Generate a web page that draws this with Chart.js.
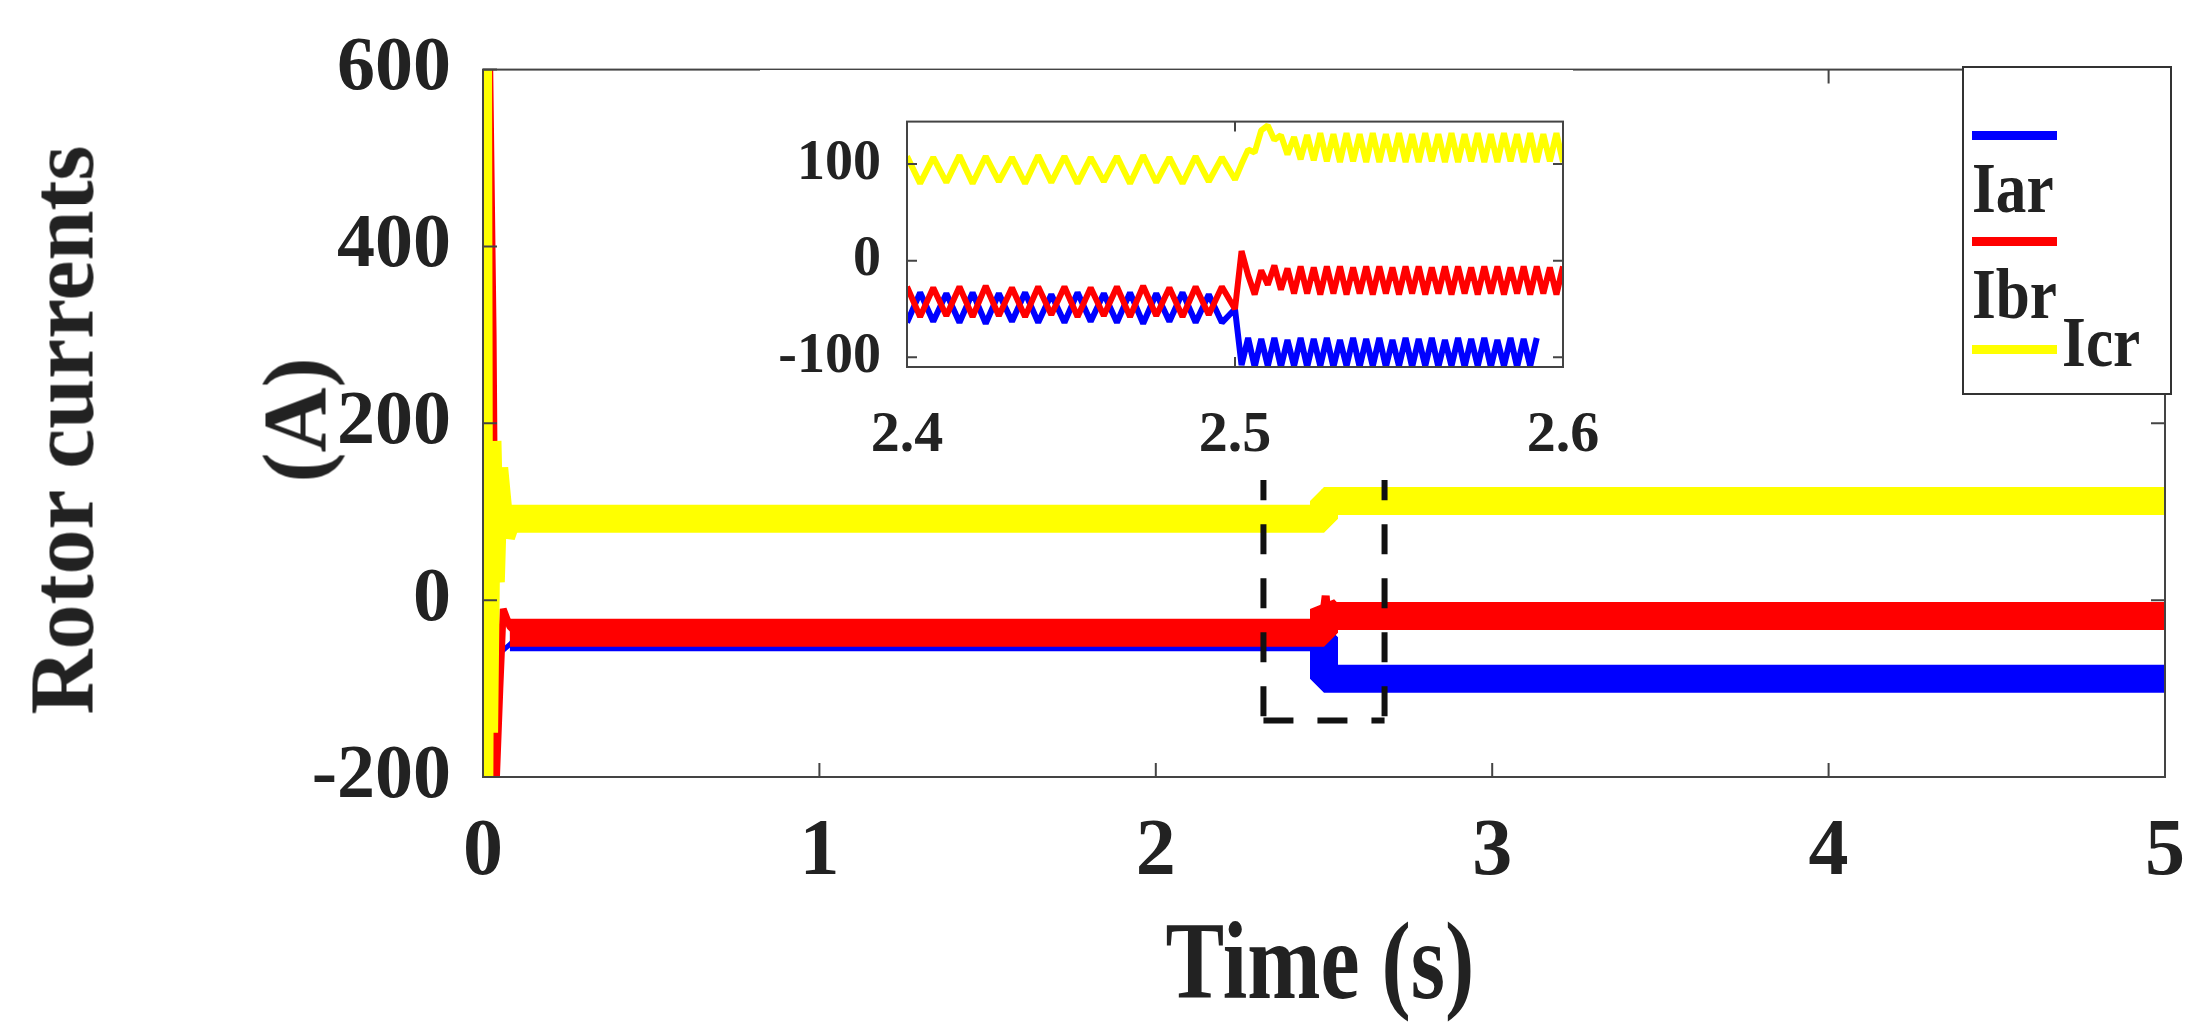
<!DOCTYPE html>
<html><head><meta charset="utf-8">
<script src="https://cdn.jsdelivr.net/npm/chart.js@4.4.0/dist/chart.umd.min.js"></script>
<style>
body{margin:0;background:#fff;width:2205px;height:1029px;overflow:hidden;position:relative;font-family:"Liberation Serif",serif;font-weight:bold;color:#222}
#main{position:absolute;left:0;top:0}
#inset{position:absolute;left:760px;top:70px}
.t{position:absolute;white-space:nowrap}
#legend{position:absolute;left:1962px;top:66px;width:206px;height:325px;border:2px solid #333;background:#fff}
.li{position:absolute;left:8px;height:60px;font-size:72px;line-height:60px;transform:scaleX(0.85);transform-origin:left center}
.li span{display:inline-block;width:100px;height:9px;vertical-align:middle;margin-right:6px}
</style></head><body>
<canvas id="main" width="2205" height="1029"></canvas>
<canvas id="inset" width="900" height="410"></canvas>
<div class="t" style="left:1320px;top:961px;font-size:110px;transform:translate(-50%,-50%) scaleX(0.8)">Time (s)</div>
<div class="t" style="left:62px;top:430px;font-size:90px;transform:translate(-50%,-50%) rotate(-90deg)">Rotor currents</div>
<div class="t" style="left:295px;top:420px;font-size:90px;transform:translate(-50%,-50%) rotate(-90deg)">(A)</div>
<div id="legend">
<div class="li" style="top:30px"><span style="background:#0000ff"></span>Iar</div>
<div class="li" style="top:136px"><span style="background:#ff0000"></span>Ibr</div>
<div class="li" style="top:244px"><span style="background:#ffff00"></span>Icr</div>
</div>
<script>
// ---- main chart data ----
const mainTicksX=[0,1,2,3,4,5];
const mainTicksY=[-200,0,200,400,600];
const icrBand=[[0.08,92],[2.5,92],[2.5,112],[5,112]];
const ibrBand=[[0.08,-37],[2.5,-37],[2.5,-10],[2.52,-18],[5,-18]];
const iarBand=[[0.08,-42],[2.5,-42],[2.5,-89],[5,-89]];
const icrStart=[[0,0],[0.004,600],[0.008,-200],[0.012,600],[0.016,-200],[0.02,170],[0.03,-150],[0.04,180],[0.05,20],[0.06,150],[0.08,70],[0.1,92]];
const ibrStart=[[0,0],[0.006,600],[0.012,-200],[0.02,600],[0.03,300],[0.04,-200],[0.05,-100],[0.06,-10],[0.08,-30],[0.1,-37]];
const iarStart=[[0,-200],[0.01,-200],[0.03,-120],[0.05,-60],[0.08,-50],[0.1,-42]];
const icrSpike=[[2.5,112],[2.505,125],[2.51,112]];
const ibrSpike=[[2.5,-10],[2.505,5],[2.51,-18]];
// ---- inset data ----
const insetTicksX=[2.4,2.5,2.6];
const insetTicksY=[-100,0,100];
const insetT=[2.400,2.404,2.408,2.412,2.416,2.420,2.424,2.428,2.432,2.436,2.440,2.444,2.448,2.452,2.456,2.460,2.464,2.468,2.472,2.476,2.480,2.484,2.488,2.492,2.496,2.500,
2.502,2.504,2.506,2.508,2.510,2.512,2.514,2.516,2.518,2.520,2.522,2.524,2.526,2.528,2.530,2.532,2.534,2.536,2.538,2.540,2.542,2.544,2.546,2.548,2.550,2.552,2.554,2.556,2.558,2.560,2.562,2.564,2.566,2.568,2.570,2.572,2.574,2.576,2.578,2.580,2.582,2.584,2.586,2.588,2.590,2.592,2.594,2.596,2.598,2.600];
const icrIn=[108,80,107,81,109,80,108,82,107,80,109,81,108,80,107,82,108,80,109,81,107,80,108,82,107,84,
100,115,112,135,140,125,130,110,128,105,130,104,132,103,131,102,132,103,131,102,132,102,131,103,132,102,131,102,132,103,131,102,132,102,131,103,132,102,131,102,132,103,131,102,132,102,131,103,132,102];
const ibrIn=[-27,-58,-28,-57,-27,-58,-26,-57,-28,-58,-27,-56,-27,-58,-28,-57,-27,-58,-26,-57,-28,-58,-27,-56,-27,-50,
10,-15,-35,-10,-25,-5,-30,-8,-34,-6,-34,-7,-35,-6,-34,-6,-35,-7,-34,-6,-35,-6,-34,-7,-35,-6,-34,-6,-35,-7,-34,-6,-35,-6,-34,-7,-35,-6,-34,-6,-35,-7,-34,-6,-35,-6,-34,-7,-35,-6];
const iarIn=[-64,-33,-63,-34,-64,-33,-65,-34,-63,-33,-64,-35,-64,-33,-63,-34,-64,-33,-65,-34,-63,-33,-64,-35,-64,-50,
-108,-80,-110,-81,-109,-80,-110,-82,-109,-80,-110,-81,-109,-80,-110,-82,-109,-80,-110,-81,-109,-80,-110,-82,-109,-80,-110,-81,-109,-80,-110,-82,-109,-80,-110,-81,-109,-80,-110,-82,-109,-80,-110,-81,-109,-80];

const BLUE='#0000ff',RED='#ff0000',YEL='#ffff00';
const pts=a=>a.map(p=>({x:p[0],y:p[1]}));
const zip=v=>v.map((y,i)=>({x:insetT[i],y}));
const font=s=>({family:'"Liberation Serif", serif',weight:'bold',size:s});

function boxPlugin(tickX,tickY,len){return{id:'box',afterDatasetsDraw(c){
  const {ctx,chartArea:a,scales:{x,y}}=c;ctx.save();ctx.strokeStyle='#444';ctx.lineWidth=2;
  ctx.strokeRect(a.left,a.top,a.right-a.left,a.bottom-a.top);
  ctx.beginPath();
  tickX.forEach(v=>{const p=x.getPixelForValue(v);ctx.moveTo(p,a.bottom);ctx.lineTo(p,a.bottom-len);ctx.moveTo(p,a.top);ctx.lineTo(p,a.top+len);});
  tickY.forEach(v=>{const p=y.getPixelForValue(v);ctx.moveTo(a.left,p);ctx.lineTo(a.left+len,p);ctx.moveTo(a.right,p);ctx.lineTo(a.right-len,p);});
  ctx.stroke();ctx.restore();}}}

const zoomBox={id:'zoomBox',afterDatasetsDraw(c){
  const {ctx,scales:{x,y}}=c;const x1=x.getPixelForValue(2.32),x2=x.getPixelForValue(2.68),y1=y.getPixelForValue(147),y2=y.getPixelForValue(-136);
  ctx.save();ctx.strokeStyle='#111';ctx.lineWidth=6;ctx.setLineDash([30,24]);
  [[x1,y1,x2,y1],[x1,y2,x2,y2],[x1,y1,x1,y2],[x2,y1,x2,y2]].forEach(l=>{ctx.beginPath();ctx.moveTo(l[0],l[1]);ctx.lineTo(l[2],l[3]);ctx.stroke();});
  ctx.setLineDash([]);ctx.lineWidth=4;const ax=x.getPixelForValue(2.503);
  ctx.beginPath();ctx.moveTo(ax,y1);ctx.lineTo(ax,382);ctx.stroke();
  ctx.beginPath();ctx.moveTo(ax,368);ctx.lineTo(ax-10,392);ctx.lineTo(ax+10,392);ctx.closePath();ctx.fillStyle='#111';ctx.fill();ctx.restore();}};

const lineDs=(d,col,w,ord)=>({data:d,borderColor:col,borderWidth:w,pointRadius:0,tension:0,order:ord,borderJoinStyle:'bevel'});

new Chart(document.getElementById('main'),{type:'line',
 data:{datasets:[lineDs(pts(icrStart),YEL,10,0),lineDs(pts(icrBand),YEL,28,0),lineDs(pts(icrSpike),YEL,8,0),
   lineDs(pts(ibrStart),RED,7,1),lineDs(pts(ibrBand),RED,28,1),lineDs(pts(ibrSpike),RED,8,1),
   lineDs(pts(iarStart),BLUE,5,2),lineDs(pts(iarBand),BLUE,28,2)]},
 options:{responsive:false,animation:false,events:[],
  layout:{padding:{left:0,right:35,top:66,bottom:0}},
  plugins:{legend:{display:false},tooltip:{enabled:false}},
  scales:{
   x:{type:'linear',min:0,max:5,afterBuildTicks:s=>{s.ticks=mainTicksX.map(v=>({value:v}))},
      afterFit:s=>{s.height=252},grid:{display:false},border:{display:false},
      ticks:{font:font(80),color:'#222',padding:20,maxRotation:0}},
   y:{min:-200,max:600,afterBuildTicks:s=>{s.ticks=mainTicksY.map(v=>({value:v}))},
      afterFit:s=>{s.width=483},grid:{display:false},border:{display:false},
      ticks:{font:font(76),color:'#222',padding:24}}}},
 plugins:[boxPlugin(mainTicksX,mainTicksY,14),zoomBox]});

new Chart(document.getElementById('inset'),{type:'line',
 data:{datasets:[lineDs(zip(icrIn),YEL,6,0),lineDs(zip(ibrIn),RED,6,1),lineDs(zip(iarIn),BLUE,6,2)]},
 options:{responsive:false,animation:false,events:[],
  layout:{padding:{left:0,right:97,top:26,bottom:0}},
  plugins:{legend:{display:false},tooltip:{enabled:false}},
  scales:{
   x:{type:'linear',min:2.4,max:2.6,afterBuildTicks:s=>{s.ticks=insetTicksX.map(v=>({value:v}))},
      afterFit:s=>{s.height=113},grid:{display:false},border:{display:false},
      ticks:{font:font(58),color:'#222',padding:26,maxRotation:0,callback:v=>v.toFixed(1)}},
   y:{min:-110,max:144,afterBuildTicks:s=>{s.ticks=insetTicksY.map(v=>({value:v}))},
      afterFit:s=>{s.width=147},grid:{display:false},border:{display:false},
      ticks:{font:font(56),color:'#222',padding:18}}}},
 plugins:[{id:'bg',beforeDraw(c){const x=c.ctx;x.save();x.fillStyle='#fff';x.fillRect(c.chartArea.left-150,0,c.chartArea.right-c.chartArea.left+160,c.height);x.restore();}},boxPlugin(insetTicksX,insetTicksY,10)]});
</script></body></html>
